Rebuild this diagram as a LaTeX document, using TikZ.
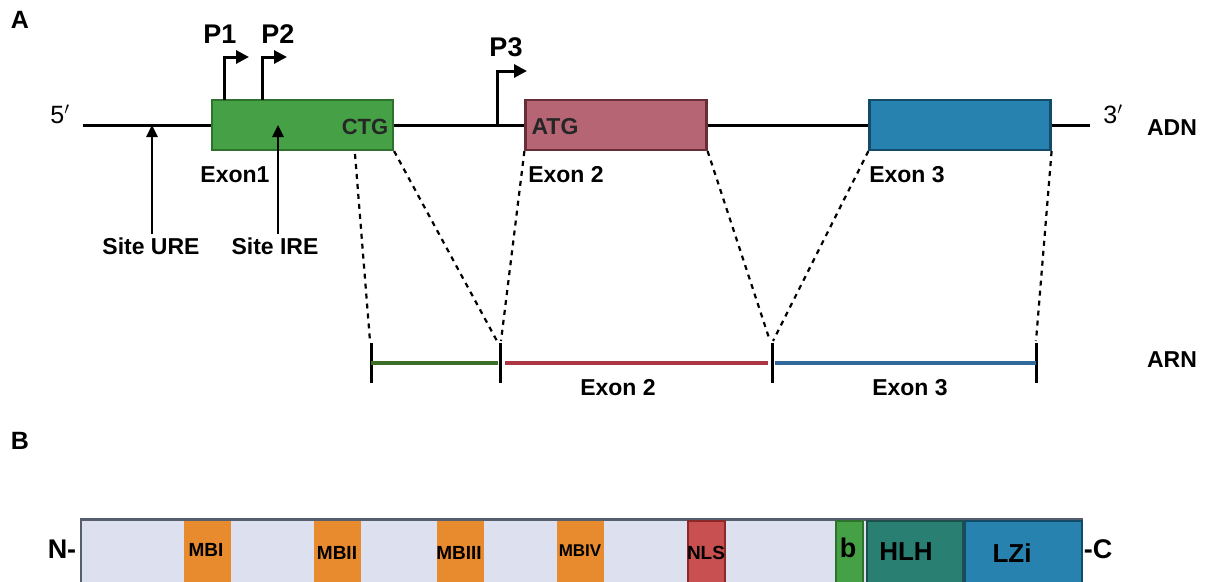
\documentclass[tikz,border=0pt]{standalone}
\usepackage{fontspec}
\setmainfont{Liberation Sans}
\usetikzlibrary{arrows.meta}

\definecolor{exon1}{RGB}{70,160,70}
\definecolor{exon1line}{RGB}{45,115,45}
\definecolor{exon2}{RGB}{181,101,116}
\definecolor{exon2line}{RGB}{105,45,55}
\definecolor{exon3}{RGB}{40,130,176}
\definecolor{exon3line}{RGB}{20,75,105}
\definecolor{arn1}{RGB}{60,110,40}
\definecolor{arn2}{RGB}{170,55,65}
\definecolor{arn3}{RGB}{50,105,155}
\definecolor{prot}{RGB}{221,224,238}
\definecolor{protline}{RGB}{85,95,110}
\definecolor{mb}{RGB}{232,138,46}
\definecolor{nls}{RGB}{200,80,80}
\definecolor{nlsline}{RGB}{140,40,40}
\definecolor{hlh}{RGB}{42,127,115}
\definecolor{hlhline}{RGB}{30,80,75}

\tikzset{
  lbl/.style={font=\fontsize{23}{23}\selectfont\bfseries},
  exon/.style={draw, line width=2.2, minimum width=181, minimum height=50, inner sep=0},
  cut/.style={line width=2.2, dash pattern=on 5 off 5},
  prom/.style={line width=3, -{Triangle[length=13,width=13]}},
  site/.style={line width=2.5, -{Triangle[length=12,width=11]}},
  tick/.style={line width=3},
  dom/.style={draw, line width=2, minimum height=66, inner sep=0}
}

\begin{document}
\begin{tikzpicture}[x=1pt,y=-1pt]
  \useasboundingbox (0,0) rectangle (1210,581);
  \clip (0,0) rectangle (1210,581);
  % titles
  \node[font=\fontsize{25}{25}\selectfont\bfseries] (ta) at (20,20) {A};
  \node[font=\fontsize{25}{25}\selectfont\bfseries] (tb) at (20,441) {B};
  % DNA
  \coordinate (dnaleft) at (83,125);
  \coordinate (dnaright) at (1090,125);
  \draw[line width=3] (dnaleft) -- (dnaright);
  \node[font=\fontsize{25}{25}\selectfont] (five) at (60,114) {5$'$};
  \node[font=\fontsize{25}{25}\selectfont] (three) at (1113,114) {3$'$};
  \node[lbl] (adn) at (1172,128) {ADN};
  % exons
  \node[exon, fill=exon1, draw=exon1line] (ex1) at (302.5,125) {};
  \node[exon, fill=exon2, draw=exon2line] (ex2) at (616,125) {};
  \node[exon, fill=exon3, draw=exon3line] (ex3) at (960,125) {};
  \node[lbl, font=\fontsize{22}{22}\selectfont\bfseries, text=black!85] (ctg) at (365,127) {CTG};
  \node[lbl, text=black!85] (atg) at (555,127) {ATG};
  \node[lbl] (ex1lbl) at (235,175) {Exon1};
  \node[lbl] (ex2lbl) at (566,175) {Exon 2};
  \node[lbl] (ex3lbl) at (907,175) {Exon 3};
  % promoters
  \coordinate (p1base) at (224,100);
  \coordinate (p2base) at (262,100);
  \coordinate (p3base) at (497,125);
  \draw[prom] (p1base) -- ++(0,-43) -- ++(25,0);
  \draw[prom] (p2base) -- ++(0,-43) -- ++(25,0);
  \draw[prom] (p3base) -- ++(0,-54) -- ++(30,0);
  \node[font=\fontsize{27}{27}\selectfont\bfseries] (p1) at (220,34) {P1};
  \node[font=\fontsize{27}{27}\selectfont\bfseries] (p2) at (278,34) {P2};
  \node[font=\fontsize{27}{27}\selectfont\bfseries] (p3) at (506,47) {P3};
  % sites
  \node[lbl] (ure) at (151,246) {Site URE};
  \node[lbl] (ire) at (275,246) {Site IRE};
  \coordinate (urept) at (152,125);
  \coordinate (irept) at (278,125);
  \draw[site] (ure.north) ++(1,0) -- (urept);
  \draw[site] (ire.north) ++(3,0) -- (irept);
  % RNA
  \coordinate (t1) at (371,363);
  \coordinate (t2) at (500,363);
  \coordinate (t3) at (772,363);
  \coordinate (t4) at (1036,363);
  \foreach \t in {t1,t2,t3,t4}
    \draw[tick] ([yshift=20]\t) -- ([yshift=-20]\t);
  \draw[line width=4, arn1] (t1) -- ([xshift=-2]t2);
  \draw[line width=4, arn2] ([xshift=5]t2) -- ([xshift=-4]t3);
  \draw[line width=4, arn3] ([xshift=3]t3) -- (t4);
  \node[lbl] (arn) at (1172,360) {ARN};
  \node[lbl] (rex2) at (618,388) {Exon 2};
  \node[lbl] (rex3) at (910,388) {Exon 3};
  % splicing
  \coordinate (cut1) at (355,154);
  \draw[cut] (cut1) -- ([xshift=-1,yshift=22]t1);
  \draw[cut] (ex1.south east) -- ([xshift=-3,yshift=22]t2);
  \draw[cut] (ex2.south west) -- ([xshift=1,yshift=22]t2);
  \draw[cut] (ex2.south east) -- ([xshift=-2,yshift=22]t3);
  \draw[cut] (ex3.south west) -- ([xshift=1,yshift=22]t3);
  \draw[cut] (ex3.south east) -- ([yshift=22]t4);
  % protein
  \node[dom, fill=prot, draw=protline, minimum width=1001, anchor=north west] (bar) at (80,519) {};
  \node[dom, fill=mb, draw=none, minimum width=47, anchor=north west] (mb1) at (183,520) {};
  \node[dom, fill=mb, draw=none, minimum width=47, anchor=north west] (mb2) at (313,520) {};
  \node[dom, fill=mb, draw=none, minimum width=47, anchor=north west] (mb3) at (436,520) {};
  \node[dom, fill=mb, draw=none, minimum width=47, anchor=north west] (mb4) at (556,520) {};
  \node[dom, fill=nls, draw=nlsline, minimum width=37, anchor=north west] (nlsbox) at (687,520) {};
  \node[dom, fill=exon1, draw=exon1line, minimum width=27, anchor=north west] (bbox) at (835,520) {};
  \node[dom, fill=hlh, draw=hlhline, minimum width=96, anchor=north west] (hlhbox) at (866,520) {};
  \node[dom, fill=exon3, draw=exon3line, minimum width=117, anchor=north west] (lzibox) at (964,520) {};
  \draw[line width=2, protline] (bar.north west) -- (bar.north east);
  \node[font=\fontsize{19}{19}\selectfont\bfseries] (mbi) at (206,550) {MBI};
  \node[font=\fontsize{19}{19}\selectfont\bfseries] (mbii) at (337,553) {MBII};
  \node[font=\fontsize{19}{19}\selectfont\bfseries] (mbiii) at (459,553) {MBIII};
  \node[font=\fontsize{17}{17}\selectfont\bfseries] (mbiv) at (580,551) {MBIV};
  \node[font=\fontsize{19}{19}\selectfont\bfseries] (nlslbl) at (706,553) {NLS};
  \node[font=\fontsize{27}{27}\selectfont\bfseries] (blbl) at (848,548) {b};
  \node[font=\fontsize{26}{26}\selectfont\bfseries] (hlhlbl) at (906,552) {HLH};
  \node[font=\fontsize{26}{26}\selectfont\bfseries] (lzilbl) at (1012,553) {LZi};
  \node[font=\fontsize{27}{27}\selectfont\bfseries] (nterm) at (62,549) {N-};
  \node[font=\fontsize{27}{27}\selectfont\bfseries] (cterm) at (1098,549) {-C};
\end{tikzpicture}
\end{document}
